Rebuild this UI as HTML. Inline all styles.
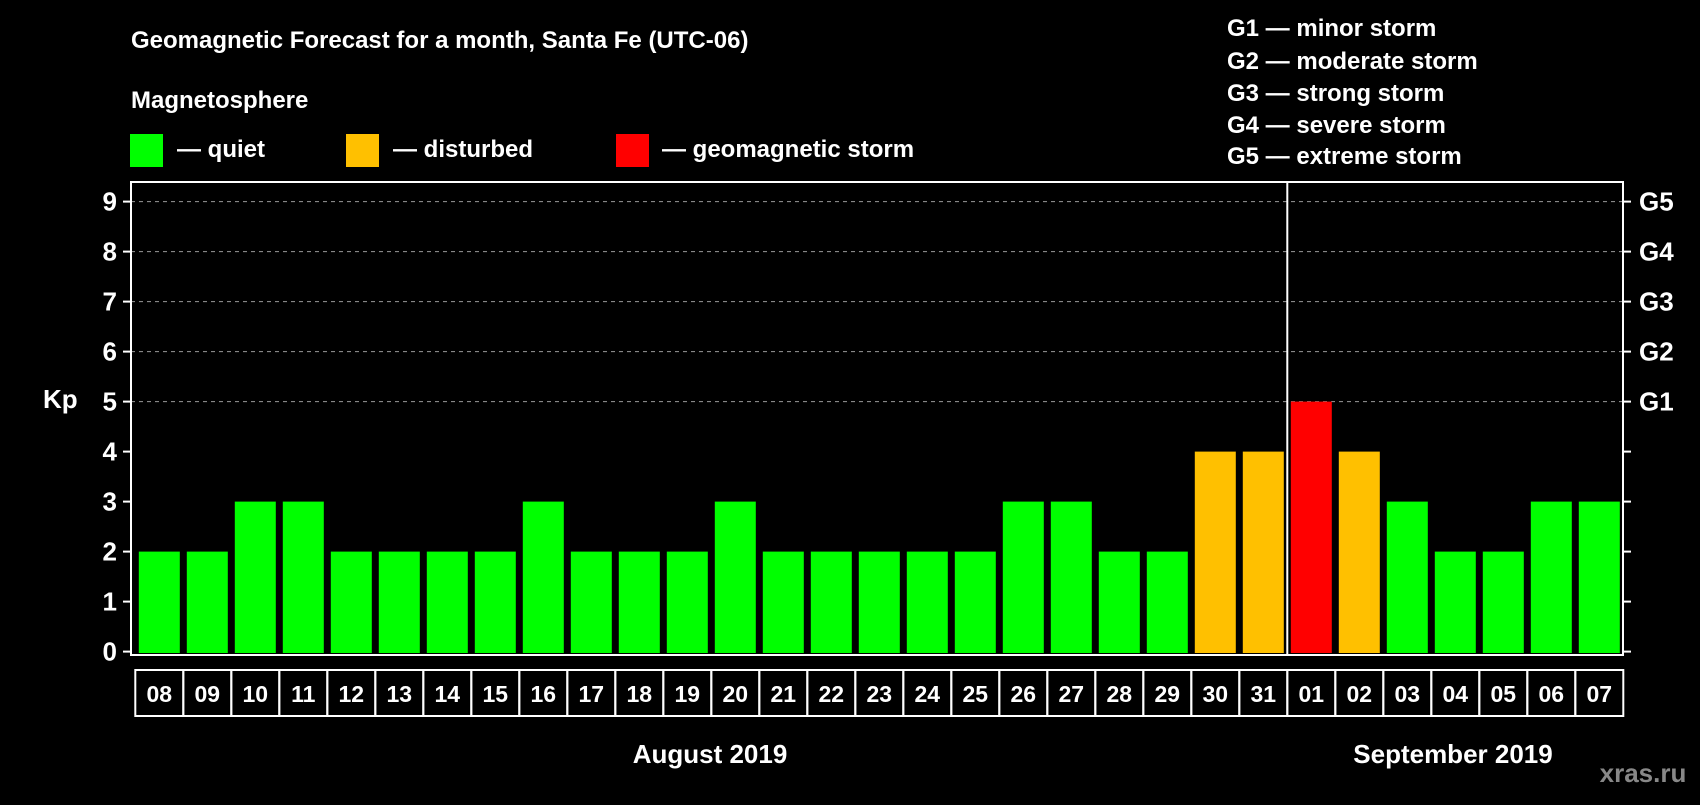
<!DOCTYPE html>
<html><head><meta charset="utf-8"><style>
body{margin:0;background:#000;width:1700px;height:800px;overflow:hidden}
svg text{font-family:"Liberation Sans",sans-serif;font-weight:bold;fill:#fff}
</style></head><body>
<svg id="c" width="1700" height="800">
<text x="131" y="48" font-size="24">Geomagnetic Forecast for a month, Santa Fe (UTC-06)</text>
<text x="131" y="108" font-size="24">Magnetosphere</text>
<rect x="130" y="134" width="33" height="33" fill="#00ff00"/>
<text x="177" y="157" font-size="24">— quiet</text>
<rect x="346" y="134" width="33" height="33" fill="#ffc000"/>
<text x="393" y="157" font-size="24">— disturbed</text>
<rect x="616" y="134" width="33" height="33" fill="#ff0000"/>
<text x="662" y="157" font-size="24">— geomagnetic storm</text>
<g font-size="24">
<text x="1227" y="36">G1 — minor storm</text>
<text x="1227" y="69">G2 — moderate storm</text>
<text x="1227" y="101">G3 — strong storm</text>
<text x="1227" y="133">G4 — severe storm</text>
<text x="1227" y="164">G5 — extreme storm</text>
</g>
<text x="43" y="408" font-size="26">Kp</text>
<text x="710" y="763" font-size="26" text-anchor="middle">August 2019</text>
<text x="1453" y="763" font-size="26" text-anchor="middle">September 2019</text>
<text x="1643" y="782" font-size="26" text-anchor="middle" style="fill:#888">xras.ru</text>
<g id="plot"></g>
</svg>
<script>
const days=["08","09","10","11","12","13","14","15","16","17","18","19","20","21","22","23","24","25","26","27","28","29","30","31","01","02","03","04","05","06","07"];
const kp=[2,2,3,3,2,2,2,2,3,2,2,2,3,2,2,2,2,2,3,3,2,2,4,4,5,4,3,2,2,3,3];
const yTicks=[0,1,2,3,4,5,6,7,8,9];
const gLabels=["G1","G2","G3","G4","G5"];
const gLevels=[5,6,7,8,9];
const monthSplitIndex=24;
const L=131,R=1623,T=182,B=655,y0=651.6,unit=50,x0=138.8,pitch=48.0,bw=41;
const NS="http://www.w3.org/2000/svg";
const g=document.getElementById('plot');
function y(v){return y0-v*unit}
function x(i){return x0+i*pitch}
function mk(t,a){const e=document.createElementNS(NS,t);for(const k in a)e.setAttribute(k,a[k]);g.appendChild(e);return e}
function col(v){return v>=5?"#ff0000":v>=4?"#ffc000":"#00ff00"}
yTicks.forEach(v=>{
 if(v>=5){const l=mk('line',{x1:L,x2:R,y1:y(v),y2:y(v),stroke:'#999','stroke-dasharray':'4,4','stroke-width':1});
 
 }
 const t1=mk('line',{x1:L-8,x2:L,y1:y(v),y2:y(v),stroke:'#fff','stroke-width':2});
 
 
 const t2=mk('line',{x1:R,x2:R+8,y1:y(v),y2:y(v),stroke:'#fff','stroke-width':2});
 
 
 const tx=mk('text',{x:L-14,y:y(v)+9,'font-size':26,'text-anchor':'end'});tx.textContent=v;
 
 
});
gLabels.forEach((s,i)=>{const t=mk('text',{x:R+16,y:y(gLevels[i])+9,'font-size':26});t.textContent=s;
 
 });
kp.forEach((v,i)=>{
 const r=mk('rect',{x:x(i),y:y(v),width:bw,height:B-2-y(v),fill:col(v)});
 
 
 const bx=mk('rect',{x:x(i)-3.5,y:670,width:pitch,height:46,fill:'none',stroke:'#fff','stroke-width':2});
 
 
 const t=mk('text',{x:x(i)-3.5+pitch/2,y:702,'font-size':23,'text-anchor':'middle'});t.textContent=days[i];
 
 
});
const sx=x(monthSplitIndex)-3.5;
const sl=mk('line',{x1:sx,x2:sx,y1:T,y2:B,stroke:'#fff','stroke-width':2});


const fr=mk('rect',{x:L,y:T,width:R-L,height:B-T,fill:'none',stroke:'#fff','stroke-width':2});


</script>
</body></html>
